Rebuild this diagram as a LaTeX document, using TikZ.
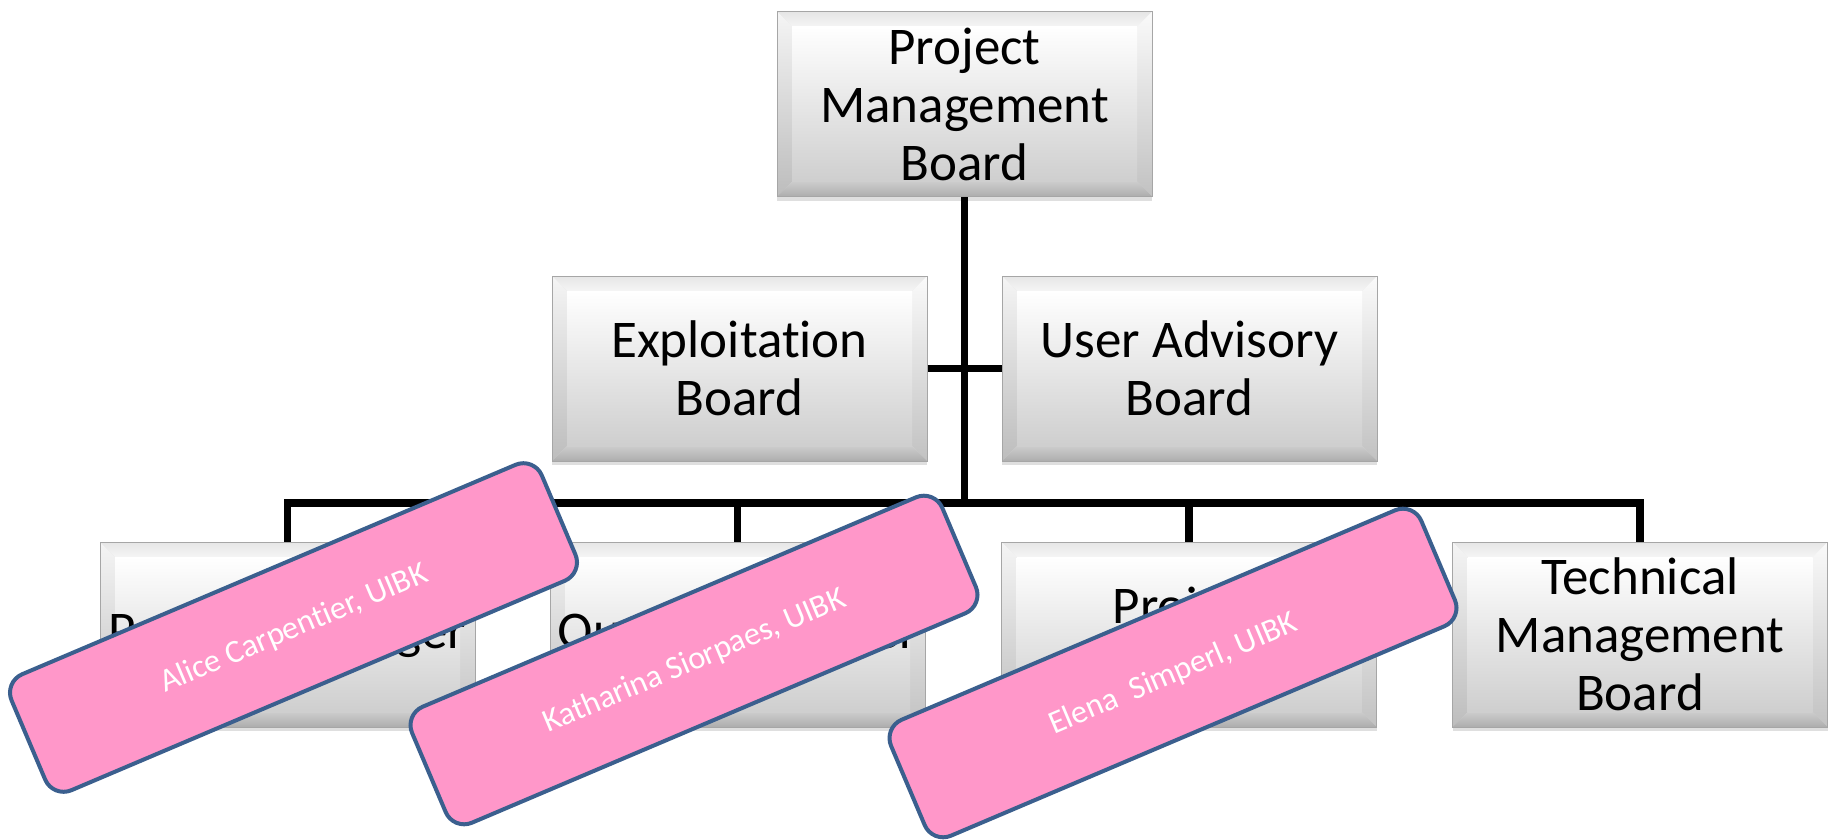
\documentclass[tikz,border=0pt]{standalone}
\usepackage{fontspec}
\setmainfont{Carlito}[Ligatures=NoCommon]
\usetikzlibrary{shadows}

\definecolor{tagpink}{HTML}{FF97C9}
\definecolor{tagedge}{HTML}{3B5F8E}
\definecolor{boardedge}{HTML}{A6A6A6}

\newcommand{\boardfont}{\fontsize{53}{58}\selectfont}
\newcommand{\tagfont}{\fontsize{32.5}{38}\selectfont}
\newcommand{\tagtext}[1]{\raisebox{-10pt}[0pt][0pt]{#1}}

\tikzset{
  % bevelled grey panel: four sloped edges round a lighter face
  bevelpanel/.style={path picture={
    \coordinate (bNW) at (path picture bounding box.north west);
    \coordinate (bNE) at (path picture bounding box.north east);
    \coordinate (bSW) at (path picture bounding box.south west);
    \coordinate (bSE) at (path picture bounding box.south east);
    \coordinate (iNW) at ([shift={(15pt,-15pt)}]bNW);
    \coordinate (iNE) at ([shift={(-15pt,-15pt)}]bNE);
    \coordinate (iSW) at ([shift={(15pt,15pt)}]bSW);
    \coordinate (iSE) at ([shift={(-15pt,15pt)}]bSE);
    \shade[top color=black!10, bottom color=black!4] (bNW) -- (bNE) -- (iNE) -- (iNW) -- cycle;
    \shade[top color=black!4, middle color=black!10, bottom color=black!26] (bNW) -- (iNW) -- (iSW) -- (bSW) -- cycle;
    \shade[top color=black!2, middle color=black!8, bottom color=black!24] (bNE) -- (iNE) -- (iSE) -- (bSE) -- cycle;
    \shade[top color=black!20, bottom color=black!32] (bSW) -- (iSW) -- (iSE) -- (bSE) -- cycle;
    \shade[top color=white, middle color=black!4, bottom color=black!19] (iNW) rectangle (iSE);
  }},
  board/.style={rectangle, minimum width=375pt, minimum height=185pt,
    inner sep=0pt, align=center, font=\boardfont, text=black,
    draw=boardedge, line width=1pt, fill=black!12,
    drop shadow={shadow xshift=0pt, shadow yshift=-4pt, opacity=0.25},
    bevelpanel},
  tag/.style={rectangle, rounded corners=20pt, draw=tagedge, line width=4pt,
    fill=tagpink, minimum width=576pt, minimum height=126pt, inner sep=0pt,
    rotate=23, text=white, font=\tagfont},
  link/.style={line width=7.5pt, black}
}

\begin{document}
\begin{tikzpicture}[x=1pt, y=-1pt]
  \useasboundingbox (0,0) rectangle (1830,840);
  \fill[white] (0,0) rectangle (1830,840);

  \coordinate (bus) at (964.5,503);

  % boards
  \node[board] (pmb) at (964.5,104)   {Project\\Management\\Board};
  \node[board] (exb) at (739.5,368.5) {Exploitation\\Board};
  \node[board] (uab) at (1189.5,368.5){User Advisory\\Board};
  \node[board] (pm)  at (287.5,634.5) {Project Manager};
  \node[board] (qm)  at (737.5,634.5) {Quality Manager};
  \node[board] (pc)  at (1189,634.5)  {Project\\Coordinator};
  \node[board] (tmb) at (1640,634.5)  {Technical\\Management\\Board};

  % connectors
  \draw[link] (pmb.south) -- (bus);
  \draw[link] (exb.east) -- (uab.west);
  \draw[link] (pm.north) |- (tmb.north |- bus) -- (tmb.north);
  \draw[link] (bus) -| (qm.north);
  \draw[link] (bus) -| (pc.north);

  % name tags
  \node[tag] (tagA) at (293.5,627.5) {\tagtext{Alice Carpentier, UIBK}};
  \node[tag] (tagK) at (694,660)     {\tagtext{Katharina Siorpaes, UIBK}};
  \node[tag] (tagE) at (1173,673)    {\tagtext{Elena\ \ Simperl, UIBK}};
\end{tikzpicture}
\end{document}
